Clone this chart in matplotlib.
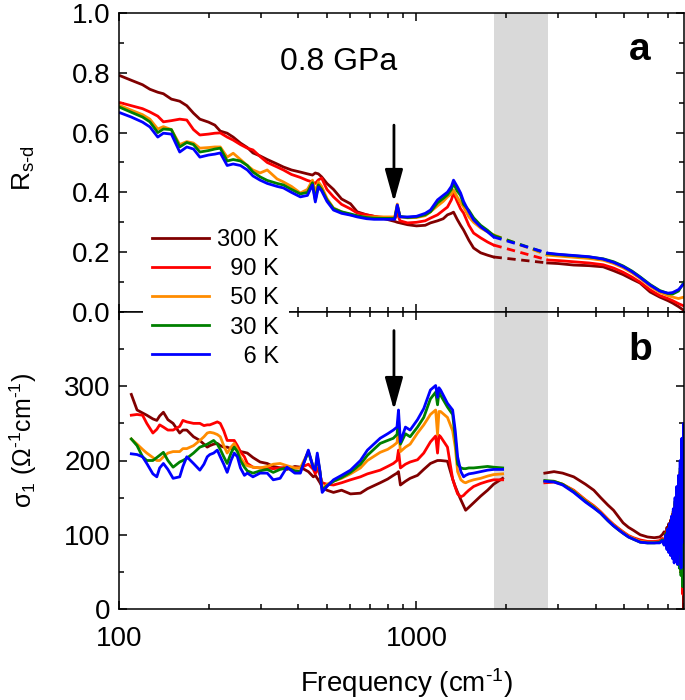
import matplotlib
matplotlib.use('Agg')
import matplotlib.pyplot as plt
from matplotlib.ticker import MultipleLocator, NullFormatter, LogLocator

plt.rcParams['font.family'] = ['Liberation Sans', 'DejaVu Sans']
plt.rcParams['mathtext.fontset'] = 'custom'
plt.rcParams['mathtext.rm'] = 'Liberation Sans'
plt.rcParams['mathtext.it'] = 'Liberation Sans:italic'

# ---- data ----
temps = ['300 K', '90 K', '50 K', '30 K', '6 K']
legend_labels = ['300 K', '  90 K', '  50 K', '  30 K', '    6 K']
colors = ['#800000', '#ff0000', '#ff8c00', '#008000', '#0000ff']

gap_lo, gap_hi = 1816, 2760   # grey band (no data)

# panel a: reflectivity R_s-d, below the gap
freq_r_low = [101, 110, 120, 127, 135, 141, 150, 160, 169, 178,
              187, 200, 210, 219, 231, 242, 256, 270, 282, 298,
              315, 340, 357, 380, 407, 430, 447, 457, 468, 480,
              500, 526, 560, 600, 632, 680, 720, 780, 845, 862,
              880, 933, 1000, 1070, 1114, 1177, 1230, 1271, 1310, 1332,
              1370, 1407, 1440, 1500, 1556, 1643, 1734, 1816]
r300_low = [0.79, 0.775, 0.76, 0.745, 0.735, 0.73, 0.712, 0.705, 0.69, 0.665,
            0.645, 0.635, 0.625, 0.605, 0.598, 0.585, 0.565, 0.55, 0.532, 0.522,
            0.51, 0.495, 0.485, 0.475, 0.468, 0.462, 0.458, 0.465, 0.462, 0.452,
            0.43, 0.41, 0.378, 0.362, 0.335, 0.325, 0.32, 0.312, 0.303, 0.30,
            0.298, 0.292, 0.288, 0.29, 0.298, 0.305, 0.312, 0.325, 0.33, 0.334,
            0.31, 0.29, 0.274, 0.24, 0.214, 0.198, 0.19, 0.184]
r90_low = [0.70, 0.69, 0.68, 0.669, 0.655, 0.636, 0.64, 0.645, 0.642, 0.61,
           0.592, 0.595, 0.598, 0.599, 0.585, 0.575, 0.56, 0.548, 0.542, 0.52,
           0.50, 0.485, 0.475, 0.46, 0.45, 0.44, 0.435, 0.43, 0.442, 0.448,
           0.41, 0.385, 0.36, 0.345, 0.331, 0.325, 0.32, 0.316, 0.312, 0.33,
           0.305, 0.298, 0.30, 0.305, 0.314, 0.325, 0.34, 0.351, 0.375, 0.398,
           0.37, 0.345, 0.331, 0.29, 0.264, 0.248, 0.234, 0.224]
r50_low = [0.69, 0.675, 0.66, 0.645, 0.612, 0.62, 0.61, 0.56, 0.57, 0.565,
           0.548, 0.55, 0.552, 0.552, 0.518, 0.531, 0.51, 0.49, 0.475, 0.465,
           0.475, 0.445, 0.435, 0.42, 0.398, 0.41, 0.441, 0.40, 0.435, 0.42,
           0.38, 0.348, 0.335, 0.325, 0.32, 0.318, 0.318, 0.318, 0.318, 0.361,
           0.318, 0.315, 0.316, 0.322, 0.335, 0.355, 0.37, 0.385, 0.395, 0.408,
           0.385, 0.365, 0.351, 0.318, 0.30, 0.281, 0.268, 0.258]
r30_low = [0.684, 0.668, 0.652, 0.636, 0.60, 0.612, 0.61, 0.552, 0.567, 0.56,
           0.535, 0.54, 0.545, 0.548, 0.505, 0.51, 0.505, 0.49, 0.468, 0.452,
           0.44, 0.43, 0.425, 0.41, 0.395, 0.40, 0.432, 0.375, 0.425, 0.41,
           0.375, 0.346, 0.335, 0.328, 0.322, 0.316, 0.314, 0.313, 0.313, 0.356,
           0.32, 0.316, 0.318, 0.325, 0.335, 0.365, 0.38, 0.392, 0.41, 0.43,
           0.405, 0.39, 0.36, 0.34, 0.315, 0.29, 0.273, 0.256]
r6_low = [0.666, 0.652, 0.635, 0.619, 0.585, 0.598, 0.595, 0.535, 0.552, 0.545,
          0.518, 0.525, 0.528, 0.532, 0.49, 0.495, 0.49, 0.475, 0.455, 0.441,
          0.43, 0.42, 0.415, 0.40, 0.385, 0.39, 0.425, 0.368, 0.418, 0.405,
          0.37, 0.341, 0.33, 0.324, 0.318, 0.312, 0.31, 0.31, 0.31, 0.358,
          0.318, 0.318, 0.32, 0.33, 0.341, 0.375, 0.39, 0.401, 0.42, 0.441,
          0.42, 0.398, 0.37, 0.335, 0.308, 0.285, 0.268, 0.251]

# panel a: above the gap
freq_r_high = [2760, 3000, 3377, 3800, 4243, 4600, 4950, 5300, 5640, 6100,
               6570, 7000, 7260, 7600, 7930]
r300_high = [0.164, 0.162, 0.157, 0.155, 0.151, 0.138, 0.125, 0.11, 0.097, 0.067,
             0.05, 0.038, 0.03, 0.018, 0.005]
r90_high = [0.174, 0.172, 0.168, 0.164, 0.158, 0.147, 0.133, 0.117, 0.10, 0.074,
            0.055, 0.045, 0.038, 0.028, 0.02]
r50_high = [0.19, 0.187, 0.183, 0.179, 0.173, 0.162, 0.148, 0.131, 0.113, 0.086,
            0.066, 0.055, 0.05, 0.045, 0.05]
r30_high = [0.195, 0.192, 0.188, 0.184, 0.178, 0.168, 0.154, 0.137, 0.118, 0.092,
            0.072, 0.062, 0.06, 0.07, 0.10]
r6_high = [0.197, 0.193, 0.189, 0.185, 0.177, 0.166, 0.152, 0.135, 0.116, 0.09,
           0.07, 0.063, 0.065, 0.075, 0.095]

# panel b: optical conductivity sigma_1, below the gap
freq_s_low = [110, 115, 120, 124, 130, 134, 137, 141, 146, 152,
              160, 164, 169, 178, 187, 193, 198, 202, 208, 214,
              219, 225, 231, 238, 244, 250, 256, 264, 270, 282,
              298, 315, 330, 348, 367, 390, 407, 433, 450, 457,
              464, 474, 482, 500, 526, 560, 600, 648, 684, 755,
              800, 836, 860, 870, 883, 918, 952, 1008, 1058, 1114,
              1160, 1177, 1190, 1205, 1271, 1323, 1350, 1375, 1410, 1440,
              1463, 1500, 1556, 1643, 1734, 1816, 1948]
s300_low = [289, 268, 264, 261, 256, 254, 260, 265, 255, 250,
            237, 241, 241, 232, 227, 222, 218, 220, 222, 223,
            220, 218, 218, 216, 218, 214, 212, 211, 210, 204,
            198, 196, 192, 190, 188, 192, 191, 185, 178, 180,
            176, 170, 164, 160, 157, 160, 155, 156, 162, 170,
            175, 180, 183, 185, 167, 172, 176, 180, 188, 196,
            199, 200, 200, 200, 199, 175, 165, 157, 147, 139,
            133, 137, 143, 152, 160, 168, 176]
s90_low = [261, 262, 261, 250, 237, 242, 248, 245, 241, 241,
           246, 254, 252, 250, 250, 247, 248, 248, 250, 252,
           250, 240, 227, 227, 227, 220, 212, 205, 196, 191,
           190, 190, 189, 190, 191, 190, 190, 195, 188, 182,
           190, 180, 170, 168, 167, 170, 174, 178, 182, 187,
           192, 196, 200, 214, 190, 195, 198, 201, 210, 225,
           233, 210, 234, 232, 218, 175, 164, 155, 151, 153,
           156, 160, 165, 169, 172, 174, 174]
s50_low = [229, 222, 215, 210, 204, 200, 200, 205, 210, 212,
           212, 216, 216, 220, 227, 232, 237, 238, 237, 235,
           232, 220, 210, 218, 223, 215, 204, 196, 193, 191,
           190, 192, 195, 196, 193, 190, 190, 212, 192, 188,
           205, 184, 162, 168, 172, 176, 182, 190, 200, 211,
           215, 220, 224, 244, 212, 218, 222, 237, 248, 262,
           268, 235, 266, 266, 258, 240, 218, 185, 174, 171,
           170, 172, 174, 176, 179, 181, 182]
s30_low = [229, 220, 205, 200, 200, 204, 207, 211, 200, 191,
           198, 200, 203, 210, 218, 220, 222, 224, 227, 222,
           215, 205, 196, 210, 218, 212, 200, 191, 186, 183,
           186, 188, 184, 188, 190, 186, 185, 212, 190, 188,
           207, 184, 160, 166, 172, 177, 184, 195, 207, 223,
           227, 230, 235, 255, 222, 236, 232, 245, 258, 283,
           292, 275, 292, 288, 272, 262, 230, 195, 190, 189,
           189, 190, 190, 191, 192, 191, 190]
s6_low = [209, 208, 205, 196, 182, 178, 190, 196, 188, 176,
          178, 192, 205, 196, 187, 195, 205, 208, 210, 214,
          205, 195, 184, 200, 210, 205, 190, 180, 183, 178,
          183, 183, 174, 176, 191, 183, 183, 214, 190, 187,
          210, 185, 157, 165, 174, 180, 187, 200, 214, 230,
          236, 241, 245, 268, 225, 245, 241, 255, 270, 295,
          301, 285, 298, 295, 277, 268, 240, 205, 185, 178,
          180, 182, 183, 185, 187, 188, 188]

# panel b: above the gap (noisy near the upper cut-off)
freq_s_high = [2700, 2900, 3100, 3377, 3700, 3945, 4160, 4400, 4596, 4800,
               4950, 5160, 5360, 5650, 5980, 6300, 6570, 6700, 6800, 6900,
               6950, 7000, 7050, 7100, 7150, 7200, 7250, 7300, 7350, 7400,
               7450, 7500, 7550, 7600, 7650, 7700, 7750, 7800, 7850, 7900, 7950]
s300_high = [183, 185, 183, 178, 168, 160, 150, 140, 133, 123,
             116, 110, 106, 100, 97, 96, 97, 100, 104, 98,
             110, 100, 115, 105, 120, 108, 128, 110, 135, 112,
             145, 105, 160, 100, 175, 90, 190, 60, 220, 0, 245]
s90_high = [170, 171, 168, 160, 147, 139, 131, 121, 114, 108,
            104, 99, 96, 93, 91, 91, 92, 95, 90, 103,
            86, 108, 82, 114, 78, 122, 74, 132, 70, 142,
            66, 155, 62, 170, 58, 185, 50, 205, 20, 240, 10]
s50_high = [172, 172, 168, 159, 146, 138, 130, 120, 113, 107,
            103, 98, 95, 91, 90, 90, 90, 93, 88, 100,
            84, 105, 80, 112, 76, 120, 72, 130, 68, 140,
            66, 155, 62, 170, 60, 185, 50, 200, 40, 230, 60]
s30_high = [173, 172, 168, 158, 145, 137, 129, 119, 112, 106,
            102, 97, 94, 90, 89, 89, 90, 93, 87, 102,
            82, 108, 78, 114, 74, 122, 70, 132, 66, 145,
            64, 160, 60, 175, 55, 190, 45, 210, 30, 220, 50]
s6_high = [172, 171, 167, 157, 144, 136, 129, 119, 112, 106,
           102, 97, 94, 90, 89, 89, 89, 92, 86, 100,
           80, 108, 76, 115, 72, 125, 68, 135, 62, 150,
           70, 165, 60, 180, 75, 200, 55, 230, 90, 250, 120]

r_low = [r300_low, r90_low, r50_low, r30_low, r6_low]
r_high = [r300_high, r90_high, r50_high, r30_high, r6_high]
s_low = [s300_low, s90_low, s50_low, s30_low, s6_low]
s_high = [s300_high, s90_high, s50_high, s30_high, s6_high]

arrow_freq = 840

# ---- figure ----
W, H = 685, 700
fig = plt.figure(figsize=(W / 100, H / 100), dpi=100)
ax1 = fig.add_axes([119 / W, 1 - 312 / H, 565 / W, 299 / H])
ax2 = fig.add_axes([119 / W, 1 - 609 / H, 565 / W, 297 / H])

lw = 2.0
for i in range(len(temps)):
    c = colors[i]
    ax1.plot(freq_r_low, r_low[i], color=c, lw=lw, label=legend_labels[i])
    ax1.plot(freq_r_high, r_high[i], color=c, lw=lw)
    # dashed bridge across the grey band
    ax1.plot([freq_r_low[-1], freq_r_high[0]], [r_low[i][-1], r_high[i][0]],
             color=c, lw=lw, ls=(0, (3, 2)))
    ax2.plot(freq_s_low, s_low[i], color=c, lw=lw)
    ax2.plot(freq_s_high, s_high[i], color=c, lw=lw)

for ax in (ax1, ax2):
    ax.axvspan(gap_lo, gap_hi, color='#d9d9d9', lw=0, zorder=0)
    ax.set_xscale('log')
    ax.set_xlim(100, 7930)
    ax.xaxis.set_major_locator(LogLocator(base=10))
    ax.xaxis.set_minor_locator(LogLocator(base=10, subs=range(2, 10)))
    ax.xaxis.set_minor_formatter(NullFormatter())
    ax.tick_params(which='both', direction='in', top=True, right=True,
                   labelsize=20, width=1.1, pad=6)
    ax.tick_params(which='major', length=6)
    ax.tick_params(which='minor', length=3.5)
    for sp in ax.spines.values():
        sp.set_linewidth(1.1)

ax1.set_ylim(0, 1.0)
ax1.yaxis.set_major_locator(MultipleLocator(0.2))
ax1.yaxis.set_minor_locator(MultipleLocator(0.1))
ax1.yaxis.set_major_formatter(plt.FuncFormatter(lambda v, p: '%.1f' % v))
ax1.tick_params(labelbottom=False)

ax2.set_ylim(0, 400)
ax2.set_yticks([0, 100, 200, 300])
ax2.yaxis.set_minor_locator(MultipleLocator(50))
ax2.set_xticks([100, 1000])
ax2.set_xticklabels(['100', '1000'])
ax2.tick_params(axis='x', which='major', pad=12)

# arrows marking the weak mode
arrow_style = dict(arrowstyle='-|>,head_length=0.9,head_width=0.25',
                   color='k', lw=2, mutation_scale=22, shrinkA=0, shrinkB=0)
ax1.annotate('', xy=(arrow_freq, 0.368), xytext=(arrow_freq, 0.625),
             arrowprops=arrow_style)
ax2.annotate('', xy=(arrow_freq, 268), xytext=(arrow_freq, 375),
             arrowprops=arrow_style)

ax1.text(546, 0.836, '0.8 GPa', fontsize=23, ha='center', va='center')
ax1.text(0.922, 0.876, 'a', transform=ax1.transAxes, fontsize=28,
         fontweight='bold', ha='center', va='center')
ax2.text(0.922, 0.872, 'b', transform=ax2.transAxes, fontsize=28,
         fontweight='bold', ha='center', va='center')

fig.text(24 / W, 1 - 168 / H, r'R$_{\text{s-d}}$', rotation=90,
         fontsize=19, ha='center', va='center')
fig.text(23 / W, 1 - 440 / H, r'σ$_1$ (Ω$^{\text{-1}}$cm$^{\text{-1}}$)',
         rotation=90, fontsize=18, ha='center', va='center')
fig.text(406 / W, 1 - 683 / H, r'Frequency (cm$^{\text{-1}}$)', fontsize=20,
         ha='center', va='center')

handles, labels = ax1.get_legend_handles_labels()
leg = fig.legend(handles, labels, loc='center left',
                 bbox_to_anchor=(143 / W, 1 - 298.5 / H), borderaxespad=0,
                 fontsize=17, frameon=True, facecolor='white', edgecolor='none',
                 framealpha=1, fancybox=False, handlelength=2.4,
                 handletextpad=0.35, labelspacing=0.3, borderpad=0.4)

fig.savefig('out.png', dpi=100)
